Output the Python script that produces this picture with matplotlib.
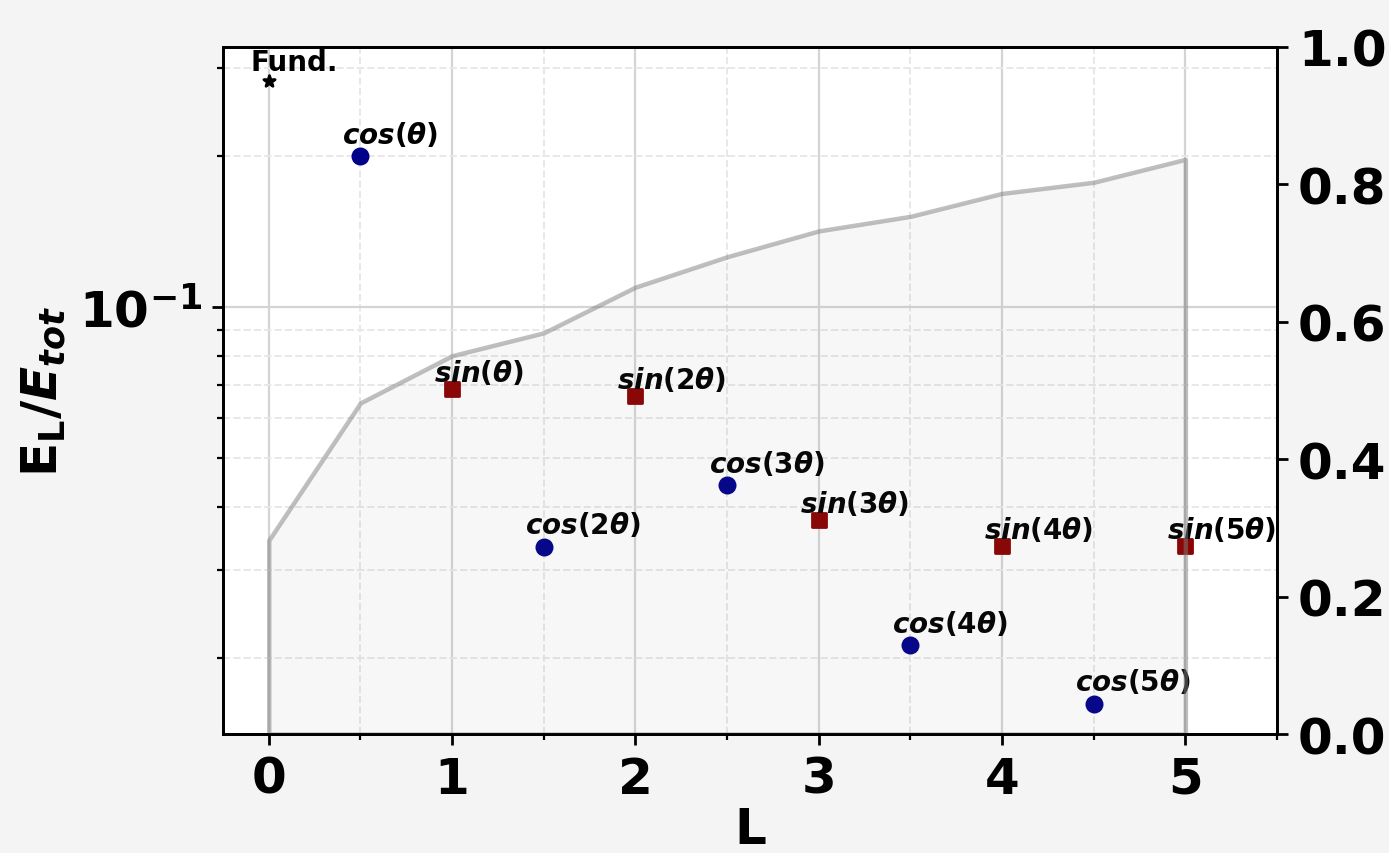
import numpy as np
import matplotlib
matplotlib.use('Agg')
import matplotlib.pyplot as plt
from matplotlib.ticker import MultipleLocator, NullFormatter

# 字体：全部加粗，数学文字用 DejaVu 粗体 / 粗斜体
plt.rcParams['font.family'] = 'DejaVu Sans'
plt.rcParams['font.weight'] = 'bold'
plt.rcParams['axes.labelweight'] = 'bold'
plt.rcParams['mathtext.fontset'] = 'custom'
plt.rcParams['mathtext.rm'] = 'DejaVu Sans:bold'
plt.rcParams['mathtext.it'] = 'DejaVu Sans:italic:bold'
plt.rcParams['mathtext.bf'] = 'DejaVu Sans:bold'

# 各模态的能量占比
fund_L = 0
fund_E = 0.282
cos_L = [0.5, 1.5, 2.5, 3.5, 4.5]
cos_E = [0.200, 0.0333, 0.0442, 0.0212, 0.0162]
cos_labels = [r'$cos(\theta)$', r'$cos(2\theta)$', r'$cos(3\theta)$',
              r'$cos(4\theta)$', r'$cos(5\theta)$']
sin_L = [1, 2, 3, 4, 5]
sin_E = [0.0687, 0.0665, 0.0376, 0.0334, 0.0334]
sin_labels = [r'$sin(\theta)$', r'$sin(2\theta)$', r'$sin(3\theta)$',
              r'$sin(4\theta)$', r'$sin(5\theta)$']

# 按 L 排序后求累计能量
all_L = np.array([fund_L] + cos_L + sin_L, dtype=float)
all_E = np.array([fund_E] + cos_E + sin_E)
order = np.argsort(all_L)
cum_L = all_L[order]
cum_E = np.cumsum(all_E[order])

fig = plt.figure(figsize=(6.945, 4.27), dpi=200, facecolor='#f4f4f4')
ax = fig.add_axes([0.1605, 0.1393, 0.7589, 0.8045])
ax.set_facecolor('white')

# 右轴：累计能量（浅灰填充，边线即折线）
ax2 = ax.twinx()
ax2.fill_between(cum_L, 0, cum_E, facecolor=(0.5, 0.5, 0.5, 0.06),
                 edgecolor=(0.5, 0.5, 0.5, 0.5), linewidth=1.6)
ax2.set_ylim(0, 1)
ax2.tick_params(labelsize=18, width=1.0, length=4)

# 左轴：各模态能量（对数）
ax.scatter(cos_L, cos_E, s=30, color='darkblue', zorder=3)
ax.scatter(sin_L, sin_E, s=26, marker='s', color='darkred', zorder=3)
ax.scatter([fund_L], [fund_E], s=18, marker='*', color='black', zorder=3)

for x, y, lab in zip(cos_L, cos_E, cos_labels):
    ax.text(x - 0.1, y * 1.035, lab, fontsize=10, va='bottom')
for x, y, lab in zip(sin_L, sin_E, sin_labels):
    ax.text(x - 0.1, y * 1.01, lab, fontsize=10, va='bottom')
ax.text(fund_L - 0.1, fund_E * 1.025, 'Fund.', fontsize=10, va='bottom')

ax.set_yscale('log')
ax.set_ylim(0.0141, 0.33)
ax.set_xlim(-0.25, 5.5)
ax.xaxis.set_major_locator(MultipleLocator(1))
ax.xaxis.set_minor_locator(MultipleLocator(0.5))
ax.yaxis.set_minor_formatter(NullFormatter())
ax.tick_params(labelsize=18, width=1.0, length=4)
ax.tick_params(which='minor', width=0.8, length=2.2)

ax.grid(which='major', color='#d4d4d4', lw=0.8, ls='-')
ax.grid(which='minor', color='#e8e8e8', lw=0.7, ls='--')
ax.set_axisbelow(True)

for a in (ax, ax2):
    for s in a.spines.values():
        s.set_linewidth(1.0)

ax.set_xlabel('L', fontsize=18, labelpad=0.8)
ax.set_ylabel(r'$\mathrm{E_L}/E_{tot}$', fontsize=18)

fig.savefig('out.png', dpi=200, facecolor=fig.get_facecolor())
